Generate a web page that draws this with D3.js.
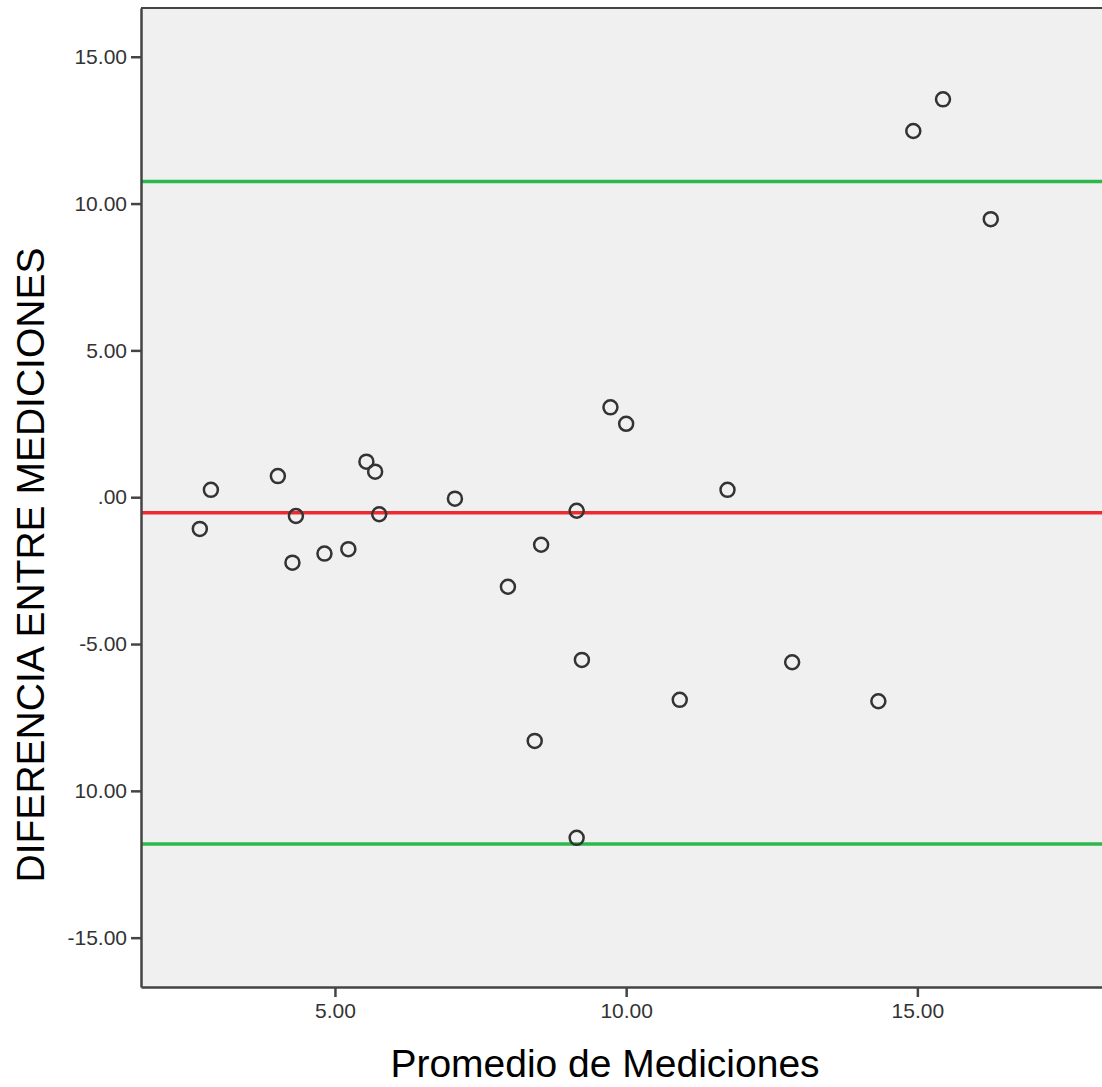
<!DOCTYPE html>
<html>
<head>
<meta charset="utf-8">
<script src="https://cdn.jsdelivr.net/npm/d3@7"></script>
<style>
  body { margin: 0; background: #fff; }
  svg { display: block; font-family: Arial, "Liberation Sans", sans-serif; }
</style>
</head>
<body>
<svg id="chart" width="1102" height="1087"></svg>
<script>
// Promedio de Mediciones (x) vs diferencia (y)
const promedio = [2.68, 2.87, 4.02, 4.33, 4.27, 4.82, 5.23, 5.54, 5.69, 5.76, 7.06, 7.97, 8.54,
  8.43, 9.15, 9.24, 9.15, 9.73, 10.00, 10.92, 11.74, 12.85, 14.33, 14.93, 15.44, 16.26];
const diferencia = [-1.08, 0.25, 0.72, -0.64, -2.23, -1.92, -1.77, 1.21, 0.87, -0.58, -0.05, -3.05, -1.62,
  -8.30, -0.46, -5.54, -11.60, 3.06, 2.50, -6.90, 0.25, -5.62, -6.95, 12.47, 13.55, 9.47];

const media = -0.53;        // red line
const limites = [10.75, -11.81]; // green lines

const xTicks = [5, 10, 15];
const xTickLabels = ["5.00", "10.00", "15.00"];
const yTicks = [15, 10, 5, 0, -5, -10, -15];
const yTickLabels = ["15.00", "10.00", "5.00", ".00", "-5.00", "10.00", "-15.00"];

const svg = d3.select("#chart");
const plotL = 141, plotT = 8, plotR = 1102, plotB = 987;

const x = d3.scaleLinear().domain([1.67, 18.17]).range([plotL, plotR]);
const y = d3.scaleLinear().domain([-16.68, 16.66]).range([plotB, plotT]);

// plot background
svg.append("rect")
  .attr("x", plotL).attr("y", plotT)
  .attr("width", plotR - plotL).attr("height", plotB - plotT)
  .attr("fill", "#f0f0f0");

// top border
svg.append("line")
  .attr("x1", plotL).attr("x2", plotR).attr("y1", plotT).attr("y2", plotT)
  .attr("stroke", "#444").attr("stroke-width", 2);

// reference lines
limites.forEach(v => {
  svg.append("line")
    .attr("x1", plotL).attr("x2", plotR)
    .attr("y1", y(v)).attr("y2", y(v))
    .attr("stroke", "#2db84b").attr("stroke-width", 3.5);
});
svg.append("line")
  .attr("x1", plotL).attr("x2", plotR)
  .attr("y1", y(media)).attr("y2", y(media))
  .attr("stroke", "#ee2a30").attr("stroke-width", 3.5);

// points
svg.append("g").selectAll("circle")
  .data(promedio.map((p, i) => [p, diferencia[i]]))
  .join("circle")
  .attr("cx", d => x(d[0]))
  .attr("cy", d => y(d[1]))
  .attr("r", 7)
  .attr("fill", "none")
  .attr("stroke", "#333")
  .attr("stroke-width", 2.5);

// axes
const xAxis = d3.axisBottom(x).tickValues(xTicks)
  .tickFormat((d, i) => xTickLabels[i]).tickSize(10).tickSizeOuter(0).tickPadding(6);
const yAxis = d3.axisLeft(y).tickValues(yTicks)
  .tickFormat((d, i) => yTickLabels[i]).tickSize(10).tickSizeOuter(0).tickPadding(4);

const gx = svg.append("g").attr("transform", `translate(0,${plotB})`).call(xAxis);
const gy = svg.append("g").attr("transform", `translate(${plotL},0)`).call(yAxis);

[gx, gy].forEach(g => {
  g.select(".domain").attr("stroke", "#444").attr("stroke-width", 2.5);
  g.selectAll(".tick line").attr("stroke", "#444").attr("stroke-width", 2.5);
  g.selectAll(".tick text").attr("fill", "#333").attr("font-size", 21)
    .attr("font-family", "Arial, 'Liberation Sans', sans-serif");
});

// axis titles
svg.append("text")
  .attr("x", 605).attr("y", 1077)
  .attr("text-anchor", "middle")
  .attr("font-size", 39)
  .attr("fill", "#000")
  .text("Promedio de Mediciones");

svg.append("text")
  .attr("transform", "translate(44,565) rotate(-90)")
  .attr("text-anchor", "middle")
  .attr("font-size", 39)
  .attr("fill", "#000")
  .text("DIFERENCIA ENTRE MEDICIONES");
</script>
</body>
</html>
